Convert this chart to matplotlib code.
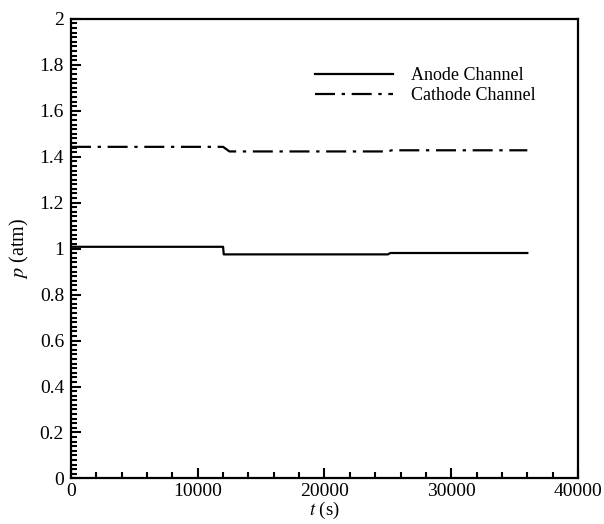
import matplotlib.pyplot as plt
from matplotlib.ticker import MultipleLocator

# Pressure histories in the two channels
anode_t = [0, 12000, 12050, 25000, 25200, 36000]
anode_p = [1.008, 1.008, 0.975, 0.975, 0.981, 0.981]
cathode_t = [0, 12000, 12500, 25000, 25300, 36000]
cathode_p = [1.443, 1.443, 1.423, 1.423, 1.428, 1.428]

plt.rcParams['font.family'] = ['Liberation Serif', 'DejaVu Serif']
plt.rcParams['mathtext.fontset'] = 'stix'

fig = plt.figure(figsize=(6.04, 5.24), dpi=100)
ax = fig.add_axes([0.1175, 0.087, 0.8395, 0.877])

ax.plot(anode_t, anode_p, color='black', lw=1.6, label='Anode Channel')
ax.plot(cathode_t, cathode_p, color='black', lw=1.6,
        dashes=(9, 3, 1.5, 3), label='Cathode Channel')

ax.set_xlim(0, 40000)
ax.set_ylim(0, 2)
ax.xaxis.set_major_locator(MultipleLocator(10000))
ax.xaxis.set_minor_locator(MultipleLocator(2000))
ax.yaxis.set_major_locator(MultipleLocator(0.2))
ax.yaxis.set_minor_locator(MultipleLocator(0.02))
ax.yaxis.set_major_formatter(plt.FuncFormatter(lambda v, p: f'{v:g}'))

ax.tick_params(which='both', direction='in', top=False, right=False,
               width=1.5, labelsize=14, color='black')
ax.tick_params(which='major', length=7.5, pad=3)
ax.tick_params(which='minor', length=4.5)
ax.tick_params(axis='y', which='major', pad=5)
for s in ax.spines.values():
    s.set_linewidth(1.6)

ax.set_xlabel(r'$t$ (s)', fontsize=13.5, labelpad=0)
ax.set_ylabel(r'$p$ (atm)', fontsize=14.5, labelpad=6)

ax.legend(loc='upper left', bbox_to_anchor=(0.45, 0.93), frameon=False,
          fontsize=13, handlelength=4.3, handletextpad=1.0,
          labelspacing=0.15)

fig.savefig('out.png', dpi=100)
